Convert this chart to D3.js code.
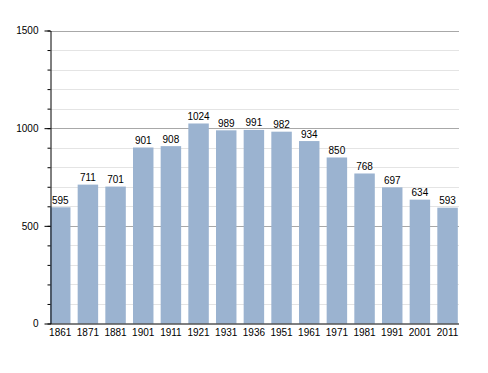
<!DOCTYPE html>
<html>
<head>
<meta charset="utf-8">
<script src="https://cdn.jsdelivr.net/npm/d3@7"></script>
<style>
  body { margin: 0; background: #fff; }
  text { font-family: "Liberation Sans", Arial, sans-serif; font-size: 10px; fill: #000; }
</style>
</head>
<body>
<svg id="chart" width="488" height="373"></svg>
<script>
const years = ['1861','1871','1881','1901','1911','1921','1931','1936','1951','1961','1971','1981','1991','2001','2011']
const population = [595, 711, 701, 901, 908, 1024, 989, 991, 982, 934, 850, 768, 697, 634, 593]
const majorTicks = [0, 500, 1000, 1500]
const minorTicks = d3.range(0, 1501, 100)

const svg = d3.select('#chart')

let plotLeft = 50, plotRight = 459, plotTop = 30.5, plotBottom = 323.5

let x = d3.scaleBand()
    .domain(years)
    .range([plotLeft, 457.8])
    .paddingInner(0.26)
    .paddingOuter(0)

let y = d3.scaleLinear()
    .domain([0, 1500])
    .range([plotBottom, plotTop])

// minor grid
svg.append('g')
    .selectAll('line')
    .data(minorTicks.filter(d => d % 500 !== 0))
    .enter()
    .append('line')
    .attr('x1', plotLeft).attr('x2', plotRight)
    .attr('y1', d => Math.round(y(d)) + 0.5).attr('y2', d => Math.round(y(d)) + 0.5)
    .attr('stroke', '#e4e4e4')

// major grid
svg.append('g')
    .selectAll('line')
    .data(majorTicks.filter(d => d > 0))
    .enter()
    .append('line')
    .attr('x1', plotLeft).attr('x2', plotRight)
    .attr('y1', d => Math.round(y(d)) + 0.5).attr('y2', d => Math.round(y(d)) + 0.5)
    .attr('stroke', '#a8a8a8')

// bars
svg.append('g')
    .selectAll('rect')
    .data(years)
    .enter()
    .append('rect')
    .attr('x', d => x(d))
    .attr('y', (d, i) => y(population[i]))
    .attr('width', x.bandwidth())
    .attr('height', (d, i) => plotBottom - y(population[i]))
    .attr('fill', '#9bb3d0')

// value labels
svg.append('g')
    .selectAll('text')
    .data(years)
    .enter()
    .append('text')
    .attr('x', d => x(d) + x.bandwidth() / 2)
    .attr('y', (d, i) => y(population[i]) - 3.5)
    .attr('text-anchor', 'middle')
    .text((d, i) => population[i])

// y axis with minor ticks
svg.append('g')
    .attr('transform', 'translate(' + (plotLeft + 0.5) + ',0)')
    .call(d3.axisLeft(y).tickValues(minorTicks).tickSize(3).tickFormat(''))
    .call(g => g.select('.domain').remove())
svg.append('g')
    .attr('transform', 'translate(' + (plotLeft + 0.5) + ',0)')
    .call(d3.axisLeft(y).tickValues(majorTicks).tickFormat(d3.format('d')).tickSize(6).tickSizeOuter(0).tickPadding(6))
    .call(g => g.selectAll('text').style('font-size', '10px').style('font-family', '"Liberation Sans", Arial, sans-serif'))

// x axis
svg.append('line')
    .attr('x1', plotLeft).attr('x2', plotRight)
    .attr('y1', plotBottom + 0.5).attr('y2', plotBottom + 0.5)
    .attr('stroke', '#000')

svg.append('g')
    .selectAll('text')
    .data(years)
    .enter()
    .append('text')
    .attr('x', d => x(d) + x.bandwidth() / 2)
    .attr('y', plotBottom + 12)
    .attr('text-anchor', 'middle')
    .text(d => d)
</script>
</body>
</html>
